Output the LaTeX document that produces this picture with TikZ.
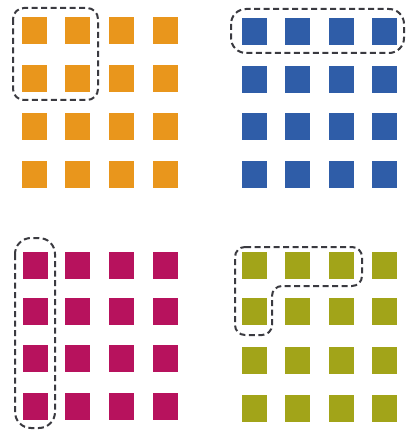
\documentclass[tikz,border=0pt]{standalone}
\definecolor{cOrange}{HTML}{E9961C}
\definecolor{cBlue}{HTML}{2F5DA8}
\definecolor{cMag}{HTML}{B7125D}
\definecolor{cOlive}{HTML}{A2A419}
\definecolor{cDash}{HTML}{3A3A40}
\tikzset{
  sq/.style={draw=none, minimum width=25pt, minimum height=27pt, inner sep=0pt, outer sep=0pt, anchor=north west},
  grp/.style={draw=cDash, line width=2pt, dash pattern=on 6pt off 3.5pt}
}
\begin{document}
\begin{tikzpicture}[x=1pt,y=-1pt]
\useasboundingbox (0,0) rectangle (407,430);
% top-left (orange)
\foreach \c/\x in {1/22,2/65,3/109,4/153}
  \foreach \r/\y in {1/17,2/65,3/113,4/161}
    \node[sq, fill=cOrange] (A\r\c) at (\x,\y) {};
% top-right (blue)
\foreach \c/\x in {1/242,2/285,3/329,4/372}
  \foreach \r/\y in {1/18,2/66,3/113,4/161}
    \node[sq, fill=cBlue] (B\r\c) at (\x,\y) {};
% bottom-left (magenta)
\foreach \c/\x in {1/23,2/65,3/109,4/153}
  \foreach \r/\y in {1/252,2/298,3/345,4/393}
    \node[sq, fill=cMag] (C\r\c) at (\x,\y) {};
% bottom-right (olive)
\foreach \c/\x in {1/242,2/285,3/329,4/372}
  \foreach \r/\y in {1/252,2/298,3/347,4/395}
    \node[sq, fill=cOlive] (D\r\c) at (\x,\y) {};
% dashed groupings
\draw[grp, rounded corners=11pt] (13,8) rectangle (98,100);
\draw[grp, rounded corners=15pt] (231,9) rectangle (404,53);
\draw[grp, rounded corners=16pt] (15,238) rectangle (55,428);
\draw[grp, rounded corners=10pt] (235,247) -- (362,247) -- (362,286) -- (272,286) -- (272,335) -- (235,335) -- cycle;
\end{tikzpicture}
\end{document}
